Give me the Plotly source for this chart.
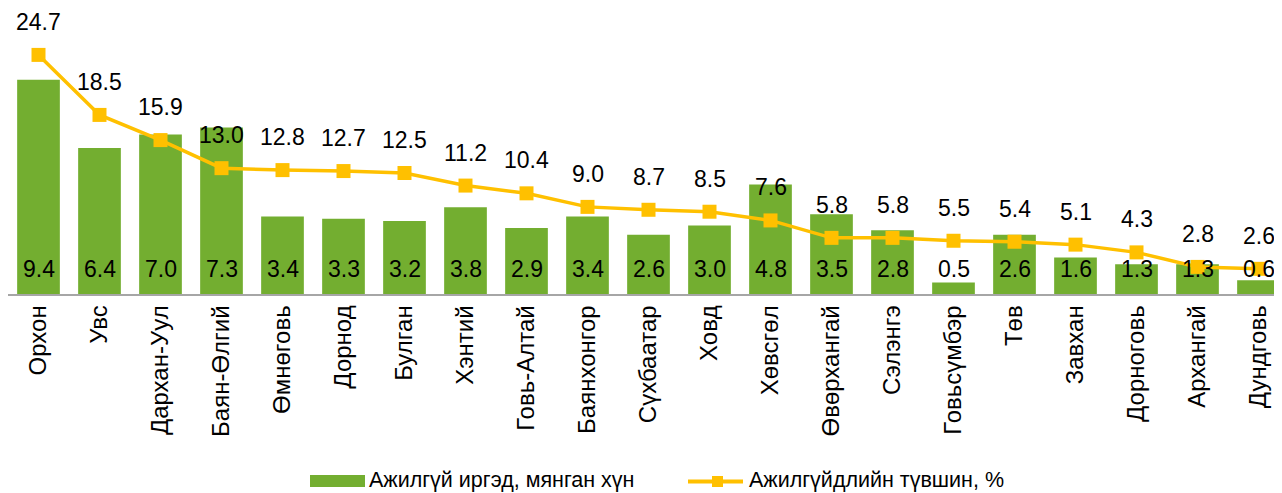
import plotly.graph_objects as go

# ---- data ----
aimags = ["Орхон", "Увс", "Дархан-Уул", "Баян-Өлгий", "Өмнөговь", "Дорнод", "Булган",
          "Хэнтий", "Говь-Алтай", "Баянхонгор", "Сүхбаатар", "Ховд", "Хөвсгөл",
          "Өвөрхангай", "Сэлэнгэ", "Говьсүмбэр", "Төв", "Завхан", "Дорноговь",
          "Архангай", "Дундговь"]
unemployed = [9.4, 6.4, 7.0, 7.3, 3.4, 3.3, 3.2, 3.8, 2.9, 3.4, 2.6, 3.0, 4.8, 3.5,
              2.8, 0.5, 2.6, 1.6, 1.3, 1.3, 0.6]
rate = [24.7, 18.5, 15.9, 13.0, 12.8, 12.7, 12.5, 11.2, 10.4, 9.0, 8.7, 8.5, 7.6, 5.8,
        5.8, 5.5, 5.4, 5.1, 4.3, 2.8, 2.6]
bar_name = "Ажилгүй иргэд, мянган хүн"
line_name = "Ажилгүйдлийн түвшин, %"

# ---- style ----
BAR_C = "#73AE30"
LINE_C = "#FFC000"
FONT = "Arial, Liberation Sans, sans-serif"
OFF = 8                      # page body margin
W_PX, H_PX = 1282 - OFF, 493 - OFF
L, R, T = 0, 0, 2
PLOT_BOTTOM_PAGE = 294
PH = PLOT_BOTTOM_PAGE - OFF - T
B = H_PX - T - PH
PW = W_PX - L - R


def px_x(p):
    return (p - OFF - L) / PW


def px_y(p):
    return (OFF + T + PH - p) / PH


fig = go.Figure()
fig.add_trace(go.Bar(x=aimags, y=unemployed, name=bar_name, marker_color=BAR_C,
                     marker_line_width=0, yaxis="y", showlegend=False,
                     hoverinfo="x+y"))
fig.add_trace(go.Scatter(x=aimags, y=rate, name=line_name, mode="lines+markers",
                         line=dict(color=LINE_C, width=3.5),
                         marker=dict(symbol="square", size=14, color=LINE_C),
                         yaxis="y2", showlegend=False, cliponaxis=False))

annotations = []
for c, v in zip(aimags, unemployed):
    annotations.append(dict(x=c, y=0, xref="x", yref="y", text=f"{v:.1f}",
                            showarrow=False, yanchor="middle", yshift=25,
                            font=dict(family=FONT, size=23, color="black")))
for c, v in zip(aimags, rate):
    annotations.append(dict(x=c, y=v, xref="x", yref="y2", text=f"{v:.1f}",
                            showarrow=False, yanchor="bottom", yshift=18,
                            font=dict(family=FONT, size=23, color="black")))

# custom legend
annotations.append(dict(x=px_x(367), y=px_y(480), xref="paper", yref="paper",
                        text=bar_name, showarrow=False, xanchor="left", yanchor="middle",
                        font=dict(family=FONT, size=21.5, color="black")))
annotations.append(dict(x=px_x(747), y=px_y(480), xref="paper", yref="paper",
                        text=line_name, showarrow=False, xanchor="left", yanchor="middle",
                        font=dict(family=FONT, size=21.5, color="black")))
shapes = [
    dict(type="rect", xref="paper", yref="paper", x0=px_x(310), x1=px_x(365),
         y0=px_y(487), y1=px_y(475), fillcolor=BAR_C, line_width=0),
    dict(type="line", xref="paper", yref="paper", x0=px_x(688), x1=px_x(743),
         y0=px_y(481.5), y1=px_y(481.5), line=dict(color=LINE_C, width=4)),
    dict(type="rect", xref="paper", yref="paper", x0=px_x(712), x1=px_x(723),
         y0=px_y(487), y1=px_y(476), fillcolor=LINE_C, line_width=0),
]

fig.update_layout(
    width=W_PX, height=H_PX,
    margin=dict(l=L, r=R, t=T, b=B, pad=0),
    paper_bgcolor="white", plot_bgcolor="white",
    bargap=0.3,
    font=dict(family=FONT, size=23, color="black"),
    xaxis=dict(range=[-0.5, -0.5 + PW / 61.0], tickangle=-90, showgrid=False,
               showline=True, linecolor="#A6A6A6", linewidth=1.5, ticks="",
               tickfont=dict(family=FONT, size=24, color="black"), zeroline=False),
    yaxis=dict(range=[0, PH / 22.8], visible=False, showgrid=False, zeroline=False),
    yaxis2=dict(range=[0, PH / 9.68], overlaying="y", visible=False, showgrid=False,
                zeroline=False),
    annotations=annotations,
    shapes=shapes,
    showlegend=False,
)

fig.write_html("out.html")
